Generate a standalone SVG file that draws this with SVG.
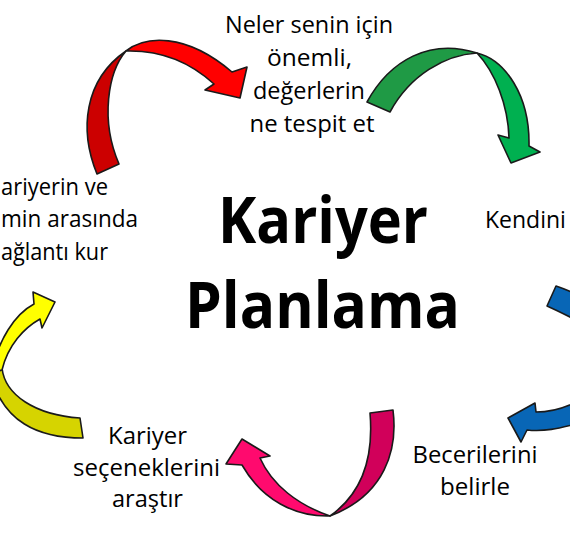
<svg xmlns="http://www.w3.org/2000/svg" width="570" height="534" viewBox="0 0 570 534">
<style>
.t{font-family:"Open Sans","Liberation Sans",sans-serif;font-size:24.4px;fill:#000}
.m{text-anchor:middle}
.h{font-family:"Open Sans","Liberation Sans",sans-serif;font-size:64px;font-weight:700;fill:#000;text-anchor:middle}
.a{stroke:#1a1a1a;stroke-width:1.6;stroke-linejoin:round}
</style>
<rect width="570" height="534" fill="#fff"/>
<g id="connectors">
  <g id="arrow-red">
    <path class="a" fill="#cc0000" d="M97,174 C79,130 84,80 126,51 C108,72 100,120 119,164 Z"/>
    <path class="a" fill="#ff0000" d="M126,51 C145,36 185,32 232,72 L247,67 L240,98 L205,90 L214,84 C190,62 160,50 126,51 Z"/>
  </g>
  <g id="arrow-green">
    <path class="a" fill="#1f9a45" d="M367,102 C390,60 430,38 477,53 C445,55 410,75 390,112 Z"/>
    <path class="a" fill="#00b050" d="M477,53 C505,60 530,95 529,146 L540,152 L511,163 L498,135 L509,138 C508,105 495,72 477,53 Z"/>
  </g>
  <g id="arrow-blue">
    <path class="a" fill="#0866b6" d="M556,286 C562,288 567,290 576,294 L576,320 C566,315 556,310 547,306 Z"/>
    <path class="a" fill="#0866b6" d="M576,402 C560,410 548,412 536,412 L535,403 L508,418 L521,442 L527,430 C545,432 560,428 576,424 Z"/>
  </g>
  <g id="arrow-pink">
    <path class="a" fill="#d1005a" d="M370,413 L393,410 C398,450 385,495 330,516 C360,495 374,460 370,413 Z"/>
    <path class="a" fill="#ff0a6e" d="M330,516 C295,517 262,500 242,465 L226,464 L242,439 L270,456 L260,458 C272,485 298,505 330,516 Z"/>
  </g>
  <g id="arrow-yellow">
    <path class="a" fill="#d6d400" d="M2,368 C5,395 35,415 80,418 L83,438 C35,438 5,420 -8,380 Z"/>
    <path class="a" fill="#ffff00" d="M-8,372 C-2,340 15,314 34,304 L33,292 L55,302 L42,328 L40,319 C24,328 8,345 2,370 Z"/>
  </g>
</g>
<g id="title">
  <text class="h" x="323" y="243" textLength="210" lengthAdjust="spacingAndGlyphs">Kariyer</text>
  <text class="h" x="322.5" y="328" textLength="275" lengthAdjust="spacingAndGlyphs">Planlama</text>
</g>
<g id="node-degerler">
  <text class="t m" x="309" y="33" textLength="168" lengthAdjust="spacingAndGlyphs">Neler senin için</text>
  <text class="t m" x="309.5" y="66" textLength="85" lengthAdjust="spacingAndGlyphs">önemli,</text>
  <text class="t m" x="309" y="99" textLength="112" lengthAdjust="spacingAndGlyphs">değerlerin</text>
  <text class="t m" x="312" y="132" textLength="125" lengthAdjust="spacingAndGlyphs">ne tespit et</text>
</g>
<g id="node-kendini">
  <text class="t" x="485" y="228" style="font-size:23px">Kendini</text>
</g>
<g id="node-beceriler">
  <text class="t m" x="475" y="463" textLength="125" lengthAdjust="spacingAndGlyphs">Becerilerini</text>
  <text class="t m" x="475" y="495" textLength="70" lengthAdjust="spacingAndGlyphs">belirle</text>
</g>
<g id="node-secenekler">
  <text class="t m" x="147.5" y="444" textLength="79" lengthAdjust="spacingAndGlyphs">Kariyer</text>
  <text class="t m" x="146.5" y="476" textLength="147" lengthAdjust="spacingAndGlyphs">seçeneklerini</text>
  <text class="t m" x="147.5" y="507" textLength="71" lengthAdjust="spacingAndGlyphs">araştır</text>
</g>
<g id="node-baglanti">
  <text class="t" x="1" y="195" textLength="107" lengthAdjust="spacingAndGlyphs">ariyerin ve</text>
  <text class="t" x="1" y="227" textLength="137" lengthAdjust="spacingAndGlyphs">min arasında</text>
  <text class="t" x="1" y="260" textLength="107" lengthAdjust="spacingAndGlyphs">ağlantı kur</text>
</g>
</svg>
